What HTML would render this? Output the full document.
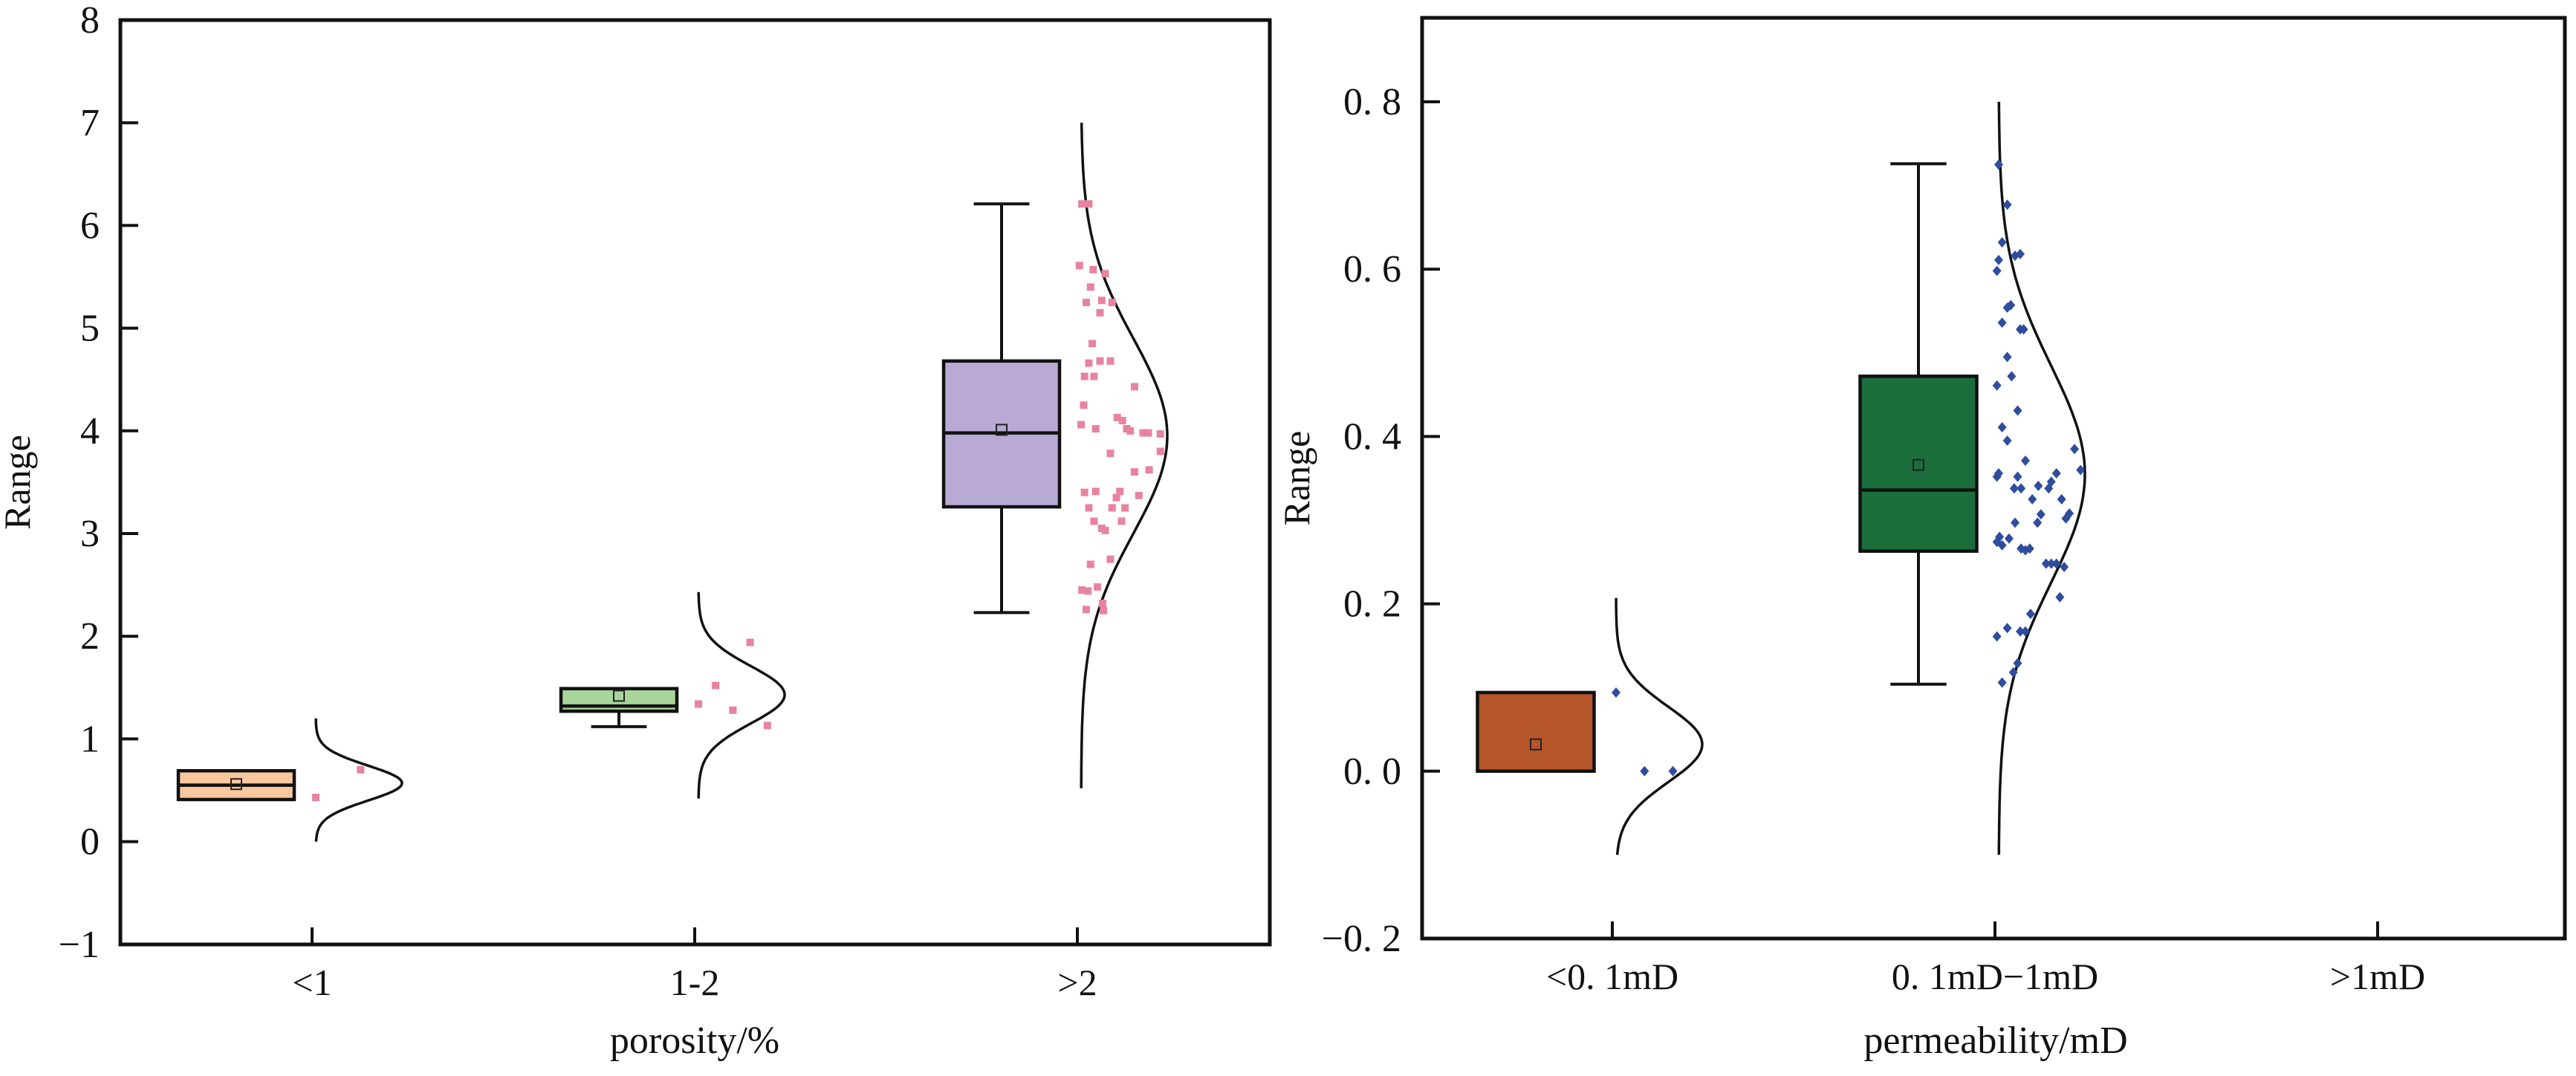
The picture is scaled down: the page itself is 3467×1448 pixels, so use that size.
<!DOCTYPE html>
<html><head><meta charset="utf-8"><style>
html,body{margin:0;padding:0;background:#fff;}
svg{display:block;font-family:"Liberation Serif","Noto Serif CJK SC",serif;}
</style></head><body>
<svg id="chart" width="3467" height="1448" viewBox="0 0 3467 1448" xmlns="http://www.w3.org/2000/svg">
<rect x="0" y="0" width="3467" height="1448" fill="#fff"/>
<g id="left"></g>
<g id="right"></g>
</svg>
<script>
// ---------- LEFT PANEL DATA (porosity) ----------
const leftCategories = ["<1", "1-2", ">2"];
const leftYTicks = [-1, 0, 1, 2, 3, 4, 5, 6, 7, 8];
const leftYTickLabels = ["\u22121", "0", "1", "2", "3", "4", "5", "6", "7", "8"];
const leftQ1 = [0.41, 1.27, 3.26];
const leftMedian = [0.55, 1.32, 3.98];
const leftQ3 = [0.69, 1.49, 4.68];
const leftWhiskLow = [0.41, 1.12, 2.23];
const leftWhiskHigh = [0.69, 1.49, 6.21];
const leftMean = [0.56, 1.42, 4.01];
const leftColors = ["#f8c79c", "#a8d59a", "#b8a9d5"];
const leftCurveMean = [0.57, 1.43, 3.95];
const leftCurveSigma = [0.17, 0.28, 0.95];
const leftCurveMin = [0.0, 0.42, 0.52];
const leftCurveMax = [1.2, 2.43, 7.0];
const leftPtVal0 = [0.43, 0.70];
const leftPtJit0 = [0.0, 0.52];
const leftPtVal1 = [1.34, 1.52, 1.28, 1.94, 1.13];
const leftPtJit1 = [0.0, 0.2, 0.4, 0.6, 0.8];
const leftPtVal2 = [6.21,6.21,5.61,5.57,5.53,5.40,5.25,5.27,5.25,5.15,4.85,4.66,4.68,4.68,4.53,4.53,4.43,4.25,4.13,4.10,4.06,4.02,4.02,4.00,3.98,3.98,3.97,3.78,3.80,3.60,3.62,3.40,3.41,3.35,3.41,3.37,3.25,3.25,3.25,3.12,3.12,3.05,3.03,2.70,2.75,2.48,2.45,2.44,2.26,2.32,2.25];
const leftPtJit2 = [0.01,0.09,-0.02,0.14,0.28,0.11,0.06,0.24,0.36,0.22,0.13,0.09,0.22,0.34,0.04,0.15,0.62,0.03,0.42,0.48,0.0,0.17,0.53,0.57,0.72,0.78,0.92,0.34,0.92,0.62,0.79,0.04,0.17,0.41,0.45,0.67,0.09,0.36,0.51,0.15,0.47,0.24,0.28,0.11,0.34,0.19,0.01,0.08,0.06,0.25,0.26];

// ---------- RIGHT PANEL DATA (permeability) ----------
const rightCategories = ["<0. 1mD", "0. 1mD\u22121mD", ">1mD"];
const rightYTicks = [-0.2, 0.0, 0.2, 0.4, 0.6, 0.8];
const rightYTickLabels = ["\u22120. 2", "0. 0", "0. 2", "0. 4", "0. 6", "0. 8"];
const rightQ1 = [0.0, 0.263];
const rightMedian = [0.0, 0.336];
const rightQ3 = [0.094, 0.472];
const rightWhiskLow = [0.0, 0.104];
const rightWhiskHigh = [0.094, 0.726];
const rightMean = [0.032, 0.366];
const rightColors = ["#b5552a", "#1b6e3c"];
const rightCurveMean = [0.032, 0.355];
const rightCurveSigma = [0.045, 0.13];
const rightCurveMin = [-0.1, -0.1];
const rightCurveMax = [0.207, 0.8];
const rightPtVal0 = [0.094, 0.0, 0.0];
const rightPtJit0 = [0.0, 0.33, 0.66];
const rightPtVal1 = [0.725,0.677,0.632,0.611,0.616,0.618,0.598,0.557,0.554,0.536,0.528,0.528,0.495,0.472,0.461,0.431,0.411,0.395,0.385,0.371,0.356,0.352,0.360,0.352,0.356,0.346,0.338,0.338,0.341,0.338,0.325,0.325,0.307,0.308,0.302,0.297,0.297,0.280,0.274,0.270,0.278,0.266,0.264,0.266,0.248,0.248,0.248,0.244,0.208,0.188,0.167,0.167,0.171,0.161,0.129,0.118,0.106];
const rightPtJit1 = [0.0,0.10,0.04,0.0,0.19,0.25,-0.02,0.14,0.10,0.04,0.25,0.29,0.10,0.15,-0.02,0.22,0.04,0.10,0.88,0.31,0.0,-0.02,0.95,0.22,0.67,0.61,0.18,0.26,0.46,0.58,0.39,0.73,0.49,0.82,0.78,0.45,0.19,0.01,-0.02,0.04,0.12,0.26,0.31,0.36,0.55,0.61,0.67,0.76,0.71,0.37,0.25,0.31,0.10,-0.02,0.22,0.17,0.04];

const NS = "http://www.w3.org/2000/svg";
function mk(parent, tag, attrs, text) {
  const e = document.createElementNS(NS, tag);
  for (const k in attrs) e.setAttribute(k, attrs[k]);
  if (text !== undefined) e.textContent = text;
  parent.appendChild(e);
  return e;
}

function drawPanel(cfg) {
  const g = document.getElementById(cfg.id);
  const {x0, x1, y0, y1} = cfg;
  const yS = v => cfg.yTop + (cfg.yMax - v) * cfg.yUnit;
  const xS = i => cfg.cat0 + cfg.catStep * i;

  const frame = mk(g, "rect", {x: x0, y: y0, width: x1 - x0, height: y1 - y0, fill: "none", stroke: "#111", "stroke-width": 5});
  
  

  cfg.yTicks.forEach((t, i) => {
    const y = yS(t);
    const tk = mk(g, "line", {x1: x0, x2: x0 + 24, y1: y, y2: y, stroke: "#111", "stroke-width": 4});
    
    
    const lb = mk(g, "text", {x: cfg.yLabelX, y: y + 17, "text-anchor": "end", "font-size": 52, fill: "#111"}, cfg.yTickLabels[i]);
    
    
  });
  cfg.categories.forEach((c, i) => {
    const x = xS(i);
    const tk = mk(g, "line", {x1: x, x2: x, y1: y1, y2: y1 - 23, stroke: "#111", "stroke-width": 4});
    
    
    const lb = mk(g, "text", {x: x, y: y1 + 68, "text-anchor": "middle", "font-size": 50, fill: "#111"}, c);
    
    
  });
  const yt = mk(g, "text", {x: 0, y: 0, "text-anchor": "middle", "font-size": 50, fill: "#111",
    transform: `translate(${cfg.yTitleX},${(y0 + y1) / 2}) rotate(-90)`}, "Range");
  
  
  const xt = mk(g, "text", {x: cfg.xTitleX, y: 1417, "text-anchor": "middle", "font-size": 52, fill: "#111"}, cfg.xTitle);
  
  

  cfg.q1.forEach((q1, i) => {
    const cx = xS(i) + cfg.boxOff, w = cfg.boxW;
    const bg = mk(g, "g", {});
    
    
    const cap = w * 0.48;
    if (cfg.wHi[i] > cfg.q3[i]) {
      mk(bg, "line", {x1: cx, x2: cx, y1: yS(cfg.q3[i]), y2: yS(cfg.wHi[i]), stroke: "#111", "stroke-width": 4});
      mk(bg, "line", {x1: cx - cap / 2, x2: cx + cap / 2, y1: yS(cfg.wHi[i]), y2: yS(cfg.wHi[i]), stroke: "#111", "stroke-width": 4});
    }
    if (cfg.wLo[i] < q1) {
      mk(bg, "line", {x1: cx, x2: cx, y1: yS(q1), y2: yS(cfg.wLo[i]), stroke: "#111", "stroke-width": 4});
      mk(bg, "line", {x1: cx - cap / 2, x2: cx + cap / 2, y1: yS(cfg.wLo[i]), y2: yS(cfg.wLo[i]), stroke: "#111", "stroke-width": 4});
    }
    mk(bg, "rect", {x: cx - w / 2, y: yS(cfg.q3[i]), width: w, height: yS(q1) - yS(cfg.q3[i]), fill: cfg.colors[i], stroke: "#111", "stroke-width": 4.5});
    mk(bg, "line", {x1: cx - w / 2, x2: cx + w / 2, y1: yS(cfg.med[i]), y2: yS(cfg.med[i]), stroke: "#111", "stroke-width": 4.5});
    const m = mk(bg, "rect", {x: cx - 7, y: yS(cfg.mean[i]) - 7, width: 14, height: 14, fill: "none", stroke: "#222", "stroke-width": 2});
    
    
  });

  cfg.cMean.forEach((mu, i) => {
    const base = xS(i) + cfg.curveOff;
    let d = "";
    const n = 120;
    for (let k = 0; k <= n; k++) {
      const v = cfg.cMin[i] + (cfg.cMax[i] - cfg.cMin[i]) * k / n;
      const z = (v - mu) / cfg.cSig[i];
      const x = base + cfg.amp * Math.exp(-0.5 * z * z);
      d += (k ? "L" : "M") + x.toFixed(1) + "," + yS(v).toFixed(1);
    }
    const p = mk(g, "path", {d: d, fill: "none", stroke: "#111", "stroke-width": 3.5});
    
    
  });

  cfg.pts.forEach((grp, c) => {
    const vals = grp[0], jits = grp[1];
    const n = Math.min(vals.length, jits.length);
    for (let j = 0; j < n; j++) {
      const x = xS(c) + cfg.curveOff + jits[j] * cfg.amp;
      const y = yS(vals[j]);
      let pt;
      if (cfg.diamond) {
        pt = mk(g, "path", {d: `M${x},${y - 7}L${x + 6},${y}L${x},${y + 7}L${x - 6},${y}Z`, fill: cfg.ptColor});
      } else {
        pt = mk(g, "rect", {x: x - 5, y: y - 5, width: 10, height: 10, fill: cfg.ptColor});
      }
      
      
    }
  });
}

drawPanel({
  id: "left", x0: 162, x1: 1709, y0: 27, y1: 1271,
  yTop: 27, yMax: 8, yUnit: 138.2,
  cat0: 420, catStep: 515,
  categories: leftCategories,
  yTicks: leftYTicks, yTickLabels: leftYTickLabels,
  yLabelX: 134, yTitleX: 40, xTitle: "porosity/%", xTitleX: 935,
  q1: leftQ1, med: leftMedian, q3: leftQ3, wLo: leftWhiskLow, wHi: leftWhiskHigh, mean: leftMean,
  colors: leftColors, boxOff: -102, boxW: 156,
  cMean: leftCurveMean, cSig: leftCurveSigma, cMin: leftCurveMin, cMax: leftCurveMax,
  curveOff: 5, amp: 116,
  pts: [[leftPtVal0, leftPtJit0], [leftPtVal1, leftPtJit1], [leftPtVal2, leftPtJit2]],
  ptColor: "#e8839f", diamond: false
});

drawPanel({
  id: "right", x0: 1914, x1: 3452, y0: 24, y1: 1263,
  yTop: 137, yMax: 0.8, yUnit: 1126,
  cat0: 2170, catStep: 515,
  categories: rightCategories,
  yTicks: rightYTicks, yTickLabels: rightYTickLabels,
  yLabelX: 1886, yTitleX: 1762, xTitle: "permeability/mD", xTitleX: 2686,
  q1: rightQ1, med: rightMedian, q3: rightQ3, wLo: rightWhiskLow, wHi: rightWhiskHigh, mean: rightMean,
  colors: rightColors, boxOff: -103, boxW: 157,
  cMean: rightCurveMean, cSig: rightCurveSigma, cMin: rightCurveMin, cMax: rightCurveMax,
  curveOff: 5, amp: 116,
  pts: [[rightPtVal0, rightPtJit0], [rightPtVal1, rightPtJit1]],
  ptColor: "#2f4d9e", diamond: true
});
</script>
</body></html>
